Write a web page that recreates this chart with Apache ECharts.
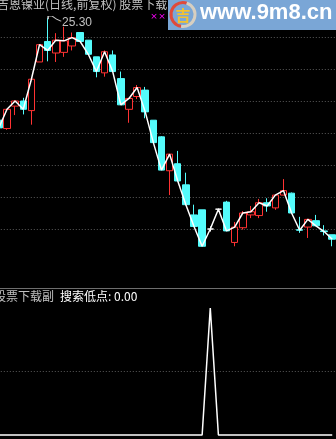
<!DOCTYPE html>
<html>
<head>
<meta charset="utf-8">
<script src="https://cdn.jsdelivr.net/npm/echarts@6/dist/echarts.min.js"></script>
<style>
html,body{margin:0;padding:0;background:#000;overflow:hidden;}
#c{width:336px;height:439px;}
</style>
</head>
<body>
<div id="c"></div>
<script>
// ---- data ----
const stockName = '吉恩镍业';
const titleSuffix = '(日线,前复权) 股票下载';
const subName = '股票下载副';
const subIndicator = '搜索低点';
const categories = ['1','2','3','4','5','6','7','8','9','10','11','12','13','14','15','16','17','18','19','20','21',
  '22','23','24','25','26','27','28','29','30','31','32','33','34','35','36','37','38','39','40','41','42'];
const openV  = [23.70,23.57,23.92,24.00,23.85,24.61,24.93,24.75,24.76,24.86,25.07,24.95,24.69,24.44,24.72,24.35,23.87,24.07,24.17,23.70,23.44,
  22.91,23.02,22.69,22.22,22.30,22.00,22.31,22.42,21.79,22.02,22.22,22.21,22.41,22.33,22.53,22.56,21.99,22.03,22.13,21.97,21.91];
const closeV = [23.58,23.87,24.00,23.87,24.34,24.88,24.79,24.95,24.94,24.99,24.93,24.73,24.46,24.77,24.46,23.94,24.04,24.21,23.83,23.35,22.92,
  23.17,22.75,22.38,22.04,21.73,22.00,22.31,21.97,22.03,22.25,22.27,22.41,22.36,22.53,22.60,22.25,21.98,22.15,22.05,21.96,21.84];
const lowV   = [23.56,23.55,23.78,23.79,23.63,24.61,24.62,24.61,24.69,24.79,24.93,24.73,24.37,24.38,24.46,23.94,23.66,24.03,23.73,23.35,22.92,
  22.53,22.75,22.37,22.04,21.73,21.96,22.27,21.97,21.73,21.99,22.17,22.17,22.27,22.30,22.53,22.25,21.94,21.86,22.05,21.90,21.73];
const highV  = [23.70,23.87,24.01,24.05,24.35,24.88,25.30,25.06,25.16,25.07,25.07,24.95,24.69,24.79,24.79,24.46,24.04,24.25,24.22,23.70,23.45,
  23.17,23.22,22.88,22.38,22.30,22.04,22.32,22.44,22.11,22.28,22.36,22.47,22.48,22.53,22.78,22.57,22.19,22.16,22.22,22.06,21.91];
const signalV = [0,0,0,0,0,0,0,0,0,0,0,0,0,0,0,0,0,0,0,0,0,
  0,0,0,0,0,1,0,0,0,0,0,0,0,0,0,0,0,0,0,0,0];
const priceMin = 21.5, priceMax = 25.5, priceStep = 0.5;
const sigMin = 0, sigMax = 1, sigStep = 0.5;

// ---- chart ----
const RED = '#ff3232', CYAN = '#54fcfc', GRIDC = '#5a5a5a', TXT = '#c0c0c0';
const kData = categories.map((_, i) => [openV[i], closeV[i], lowV[i], highV[i]]);
const chart = echarts.init(document.getElementById('c'), null, {renderer: 'canvas'});
const gridLeft = -5.2, gridWidth = 341.5;
const splitStyle = {show: true, showMinLine: false, showMaxLine: false,
  lineStyle: {color: GRIDC, type: [1, 2], width: 1}};
const lastSig = signalV[signalV.length - 1];
const axisOff = {axisLine: {show: false}, axisTick: {show: false}, axisLabel: {show: false}};

chart.setOption({
  backgroundColor: '#000',
  animation: false,
  grid: [
    {left: gridLeft, width: gridWidth, top: 5, height: 256, outerBoundsMode: 'none', containLabel: false},
    {left: gridLeft, width: gridWidth, top: 308, height: 127, outerBoundsMode: 'none', containLabel: false}
  ],
  xAxis: [
    Object.assign({type: 'category', gridIndex: 0, data: categories, boundaryGap: true, splitLine: {show: false}}, axisOff),
    Object.assign({type: 'category', gridIndex: 1, data: categories, boundaryGap: true, splitLine: {show: false}}, axisOff)
  ],
  yAxis: [
    Object.assign({type: 'value', gridIndex: 0, min: priceMin, max: priceMax, interval: priceStep, splitLine: splitStyle}, axisOff),
    Object.assign({type: 'value', gridIndex: 1, min: sigMin, max: sigMax, interval: sigStep, splitLine: splitStyle}, axisOff)
  ],
  series: [
    {
      type: 'candlestick', xAxisIndex: 0, yAxisIndex: 0, data: kData, barWidth: 7, silent: true,
      itemStyle: {color: '#000', color0: CYAN, borderColor: RED, borderColor0: CYAN,
                  borderColorDoji: '#ffffff', borderWidth: 1},
      markPoint: {
        silent: true,
        data: [{type: 'max', valueDim: 'highest'}],
        symbol: 'path://M0,3 L0,0 L4,0 L8,3 L12,5',
        symbolSize: [13, 5],
        symbolKeepAspect: false,
        symbolOffset: [7, 1],
        itemStyle: {color: 'rgba(0,0,0,0)', borderColor: TXT, borderWidth: 1},
        label: {show: true, position: 'right', distance: 1, offset: [-1, 4], color: TXT,
                fontSize: 12, fontFamily: 'Liberation Sans, Arial, sans-serif',
                formatter: p => Number(p.value).toFixed(2)}
      }
    },
    {
      type: 'line', xAxisIndex: 0, yAxisIndex: 0, data: closeV, symbol: 'none', silent: true,
      lineStyle: {color: '#ffffff', width: 1.5}, z: 3
    },
    {
      type: 'line', xAxisIndex: 1, yAxisIndex: 1, data: signalV, symbol: 'none', silent: true, clip: false,
      lineStyle: {color: '#ffffff', width: 1.5}
    }
  ],
  graphic: [
    {type: 'text', x: -3, y: -2, z: 10,
     style: {text: stockName + titleSuffix, fill: TXT, font: '12px "Noto Sans CJK SC", sans-serif', verticalAlign: 'top'}},
    {type: 'text', x: 154, y: 16.5, z: 10,
     style: {text: '×', fill: '#ff00ff', font: '9px "DejaVu Sans", sans-serif', align: 'center', verticalAlign: 'middle'}},
    {type: 'text', x: 162, y: 16.5, z: 10,
     style: {text: '×', fill: '#ff00ff', font: '9px "DejaVu Sans", sans-serif', align: 'center', verticalAlign: 'middle'}},
    // watermark banner
    {type: 'rect', shape: {x: 168, y: 0, width: 168, height: 30}, style: {fill: '#7aa6d6'}, z: 20},
    {type: 'arc', shape: {cx: 183, cy: 14.5, r: 12, startAngle: Math.PI * 0.55, endAngle: Math.PI * 1.6},
     style: {stroke: '#e04a3a', lineWidth: 3, fill: null}, z: 21},
    {type: 'arc', shape: {cx: 183, cy: 14.5, r: 12, startAngle: Math.PI * 1.6, endAngle: Math.PI * 2.55},
     style: {stroke: '#d8cfc0', lineWidth: 3, fill: null}, z: 21},
    {type: 'text', x: 183, y: 15, z: 22,
     style: {text: '吉', fill: '#f2c230', font: 'bold 15px "Noto Sans CJK SC", sans-serif', align: 'center', verticalAlign: 'middle'}},
    {type: 'text', x: 200, y: 13, z: 22,
     style: {text: 'www.9m8.cn', fill: '#ffffff', font: 'bold 22px "Liberation Sans", Arial, sans-serif', verticalAlign: 'middle'}},
    // panel separator
    {type: 'line', shape: {x1: 0, y1: 288.5, x2: 336, y2: 288.5}, style: {stroke: '#6e6e6e', lineWidth: 1}, z: 10},
    {type: 'text', x: -6, y: 290, z: 10,
     style: {text: subName, fill: TXT, font: '12px "Noto Sans CJK SC", sans-serif', verticalAlign: 'top'}},
    {type: 'text', x: 60, y: 290, z: 10,
     style: {text: subIndicator + ': ' + lastSig.toFixed(2), fill: '#ffffff', font: '12px "Noto Sans CJK SC", sans-serif', verticalAlign: 'top'}}
  ]
});
</script>
</body>
</html>
